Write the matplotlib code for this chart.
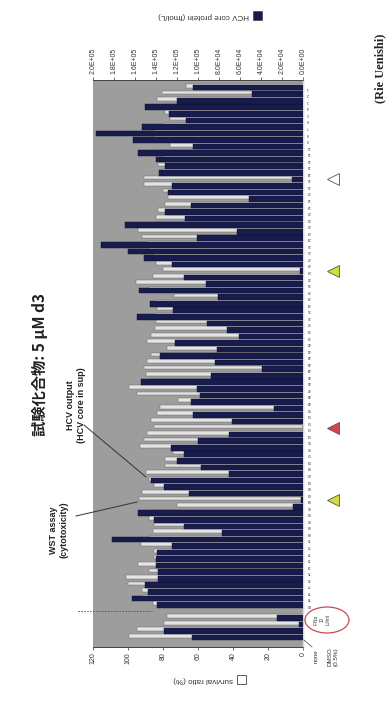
import matplotlib
matplotlib.use('Agg')
import matplotlib.pyplot as plt
import numpy as np
from matplotlib.patches import Ellipse, Rectangle
from matplotlib.lines import Line2D

# ---------------- data ----------------
# control wells, listed bottom -> top
control_labels = ['', '', '', '']
control_hcv = [106e3, 132e3, 4e3, 25e3]          # HCV core protein (fmol/L)
control_surv = [99.5, 95, 79.5, 78]               # survival ratio (%)

# test compounds, listed top -> bottom as they appear in the picture
compound_labels = [str(i) for i in range(1, 81)]
compound_hcv = [105e3, 48.6e3, 120e3, 150e3, 128e3, 111e3, 153e3, 197e3, 162e3, 104.6e3,
                157e3, 140e3, 131e3, 137e3, 10.7e3, 125e3, 128.6e3, 51.8e3, 107e3, 131e3,
                112.8e3, 170e3, 62.9e3, 101e3, 192e3, 167e3, 151e3, 124.5e3, 2.8e3, 113.5e3,
                92e3, 156e3, 81e3, 145.7e3, 123.5e3, 157.7e3, 91e3, 72e3, 61e3, 122e3,
                82e3, 136e3, 84e3, 39e3, 87.5e3, 154.5e3, 101e3, 98e3, 107e3, 27.5e3,
                104.6e3, 67.6e3, 0.3e3, 70e3, 100e3, 126e3, 113.5e3, 119.7e3, 97e3, 70e3,
                145e3, 132e3, 108.7e3, 2e3, 9.8e3, 157e3, 142e3, 113e3, 77e3, 182e3,
                125e3, 139e3, 140e3, 140e3, 138e3, 138e3, 150e3, 148e3, 163e3, 139e3]
compound_surv = [67, 80.5, 83.6, 80, 79, 76, 80, 85, 85, 76,
                 85, 80, 83, 80, 91, 91, 80, 77, 79, 83,
                 84, 85, 94.5, 92, 90, 88, 85, 84, 80, 85.5,
                 95.5, 88, 73.5, 85, 83.6, 85, 84, 84.4, 87, 89,
                 78, 87, 89, 91, 90, 88, 99.7, 95, 71.6, 82,
                 83.6, 87, 85, 89, 91, 93, 74.5, 78.6, 79, 90,
                 88, 85, 92, 93.6, 72, 88, 88, 85, 86, 88,
                 92.6, 85, 85, 94.5, 88, 101, 100, 92, 92, 86]
# hit markers: compound number -> triangle colour
hits = {15: '#ffffff', 29: '#d6dc3a', 53: '#d8434b', 64: '#d6dc3a'}

hcv_ticks = [0, 2e4, 4e4, 6e4, 8e4, 1e5, 1.2e5, 1.4e5, 1.6e5, 1.8e5, 2e5]
surv_ticks = [0, 20, 40, 60, 80, 100, 120]

# ---------------- layout ----------------
W, H = 389, 703
fig = plt.figure(figsize=(W / 100, H / 100), dpi=100)
fig.patch.set_facecolor('white')
plt.rcParams['font.family'] = ['Liberation Sans', 'DejaVu Sans']


def fx(x):
    return x / W


def fy(y):
    return 1 - y / H


NAVY = '#171c4c'
LIGHT = '#e4e4e4'
GRAY = '#9d9d9d'

ax = fig.add_axes([fx(93), fy(647), fx(303) - fx(93), fy(80) - fy(647)])
ax.set_facecolor(GRAY)

n_ctrl = len(control_labels)
labels = control_labels + [''] + compound_labels[::-1]
hcv = control_hcv + [np.nan] + compound_hcv[::-1]
surv = control_surv + [np.nan] + compound_surv[::-1]
slots = np.arange(len(labels))

# survival bars (behind)
ax.barh(slots + 0.2, surv, height=0.56, color=LIGHT, edgecolor='#6a6a6a', linewidth=0.35, zorder=2)
ax.set_xlim(120, 0)
ax.set_ylim(-1.5, 85.1)
ax.set_xticks(surv_ticks)
ax.set_xticklabels([str(t) for t in surv_ticks], rotation=90, fontsize=5)
ax.tick_params(axis='x', length=2, width=0.5, pad=2, colors='#333333')
ax.yaxis.tick_right()
ax.set_yticks(slots)
ax.set_yticklabels(labels, fontsize=2.8, rotation=180, color='#444444')
ax.tick_params(axis='y', length=0, pad=2.5)

# HCV bars (front)
ax2 = ax.twiny()
ax2.barh(slots - 0.07, hcv, height=0.86, color=NAVY, edgecolor='#0c0f2c', linewidth=0.3, zorder=3)
ax2.set_xlim(2e5, 0)
ax2.set_xticks(hcv_ticks)
ax2.set_xticklabels(['%.1E' % t for t in hcv_ticks], rotation=90, fontsize=5)
ax2.tick_params(axis='x', length=2, width=0.5, pad=2, colors='#333333')

for a in (ax, ax2):
    a.spines['left'].set_visible(False)
    a.spines['right'].set_color('#d8d8d8')
    a.spines['right'].set_linewidth(1.0)
    a.spines['top'].set_color('#444444')
    a.spines['bottom'].set_color('#444444')
    a.spines['top'].set_linewidth(0.6)
    a.spines['bottom'].set_linewidth(0.6)

# hit triangles
ytr = ax.get_yaxis_transform()
for num, col in hits.items():
    s = n_ctrl + 1 + (len(compound_labels) - num)
    ax.plot([1.143], [s], marker='<', markersize=9, markerfacecolor=col,
            markeredgecolor='#555555', markeredgewidth=0.6, transform=ytr, clip_on=False)

# separator dotted line
fig.add_artist(Line2D([fx(78), fx(152)], [fy(611), fy(611)], color='#555555',
                      lw=0.7, linestyle=(0, (1.5, 1.5))))

# annotations
fig.text(fx(40), fy(365), '試験化合物: 5 μM d3', rotation=90, fontsize=11, fontweight='bold',
         family=['Noto Sans CJK JP', 'DejaVu Sans'], ha='center', va='center', color='#222222')
fig.text(fx(76), fy(405), 'HCV output\n(HCV core in sup)', rotation=90, fontsize=6.5,
         fontweight='bold', ha='center', va='center', multialignment='center', color='#222222')
fig.text(fx(59), fy(530), 'WST assay\n(cytotoxicity)', rotation=90, fontsize=6.5,
         fontweight='bold', ha='center', va='center', multialignment='center', color='#222222')
fig.add_artist(Line2D([fx(84), fx(146)], [fy(425), fy(477)], color='#333333', lw=0.7))
fig.add_artist(Line2D([fx(76), fx(137)], [fy(516), fy(502)], color='#333333', lw=0.7))

# legends
fig.add_artist(Rectangle((fx(253), fy(20)), 9 / W, 9 / H, transform=fig.transFigure,
                         facecolor=NAVY, edgecolor='#333333', lw=0.4))
fig.text(fx(249), fy(15.5), 'HCV core protein (fmol/L)', rotation=180, fontsize=5.8,
         ha='right', va='center', color='#333333')
fig.add_artist(Rectangle((fx(237), fy(684)), 9 / W, 9 / H, transform=fig.transFigure,
                         facecolor='white', edgecolor='#444444', lw=0.6))
fig.text(fx(233), fy(679.5), 'survival ratio (%)', rotation=180, fontsize=5.8,
         ha='right', va='center', color='#333333')

fig.text(fx(380), fy(68), '(Rie Uenishi)', rotation=90, fontsize=9, fontweight='bold',
         family=['Liberation Serif', 'DejaVu Serif'], ha='center', va='center', color='#222222')

# control labels
fig.add_artist(Ellipse((fx(327), fy(620)), 44 / W, 26 / H, transform=fig.transFigure,
                       fill=False, edgecolor='#cc4a55', lw=0.9))
fig.text(fx(322), fy(620), 'IFNα\n10\nIU/ml', rotation=90, fontsize=3.3, ha='center',
         va='center', multialignment='center', color='#333333')
fig.add_artist(Line2D([fx(304), fx(312)], [fy(640), fy(647)], color='#444444', lw=0.5))
fig.text(fx(316), fy(656), 'none', rotation=90, fontsize=4.5, ha='center', va='center',
         color='#333333')
fig.text(fx(333), fy(657), 'DMSO\n(0.5%)', rotation=90, fontsize=4.5, ha='center', va='center',
         multialignment='center', color='#333333')

fig.savefig('out.png', dpi=100)
